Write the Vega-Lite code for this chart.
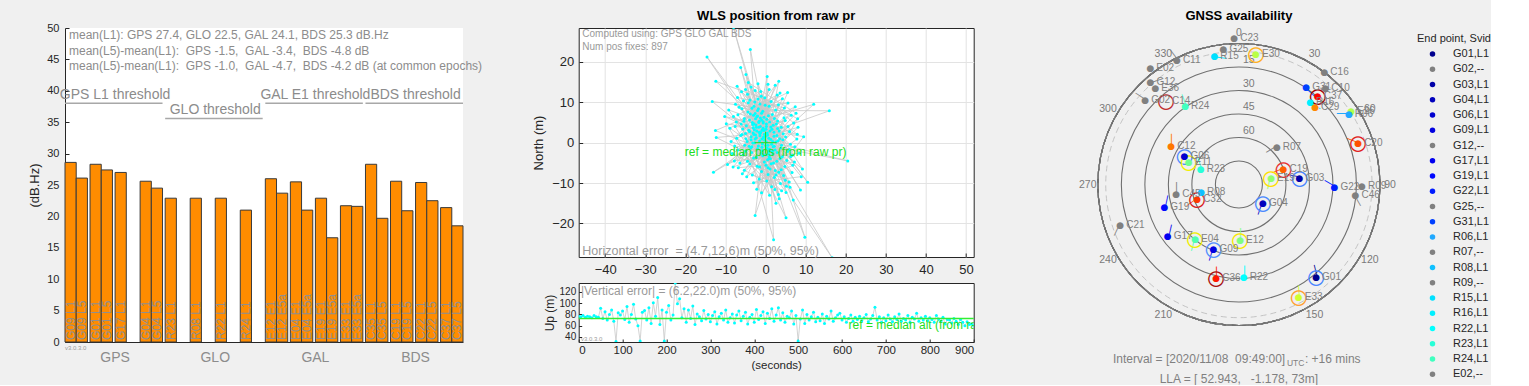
{
"$schema": "https://vega.github.io/schema/vega-lite/v6.json",
"background": "#f0f0f0",
"padding": {"left": 28, "top": 9, "right": 0, "bottom": 0},
"config": {
  "font": "Liberation Sans",
  "view": {"stroke": null},
  "axis": {"labelColor": "#262626", "titleColor": "#262626", "domainColor": "#262626", "tickColor": "#262626", "titleFontWeight": "normal", "grid": false, "ticks": false, "labelOverlap": false, "labelFont": "Liberation Sans", "titleFont": "Liberation Sans"},
  "title": {"fontSize": 13, "fontWeight": "bold", "color": "#000000", "font": "Liberation Sans"}
},
"resolve": {"scale": {"fill": "independent", "stroke": "independent"}, "legend": {"fill": "independent", "stroke": "independent"}},
"datasets": {
  "cn0": [
    {"sat": "G09", "carrier": "L1", "label": "G09 L1", "cn0": 28.6},
    {"sat": "G09", "carrier": "L5", "label": "G09 L5", "cn0": 26.1},
    {"sat": "G01", "carrier": "L1", "label": "G01 L1", "cn0": 28.3},
    {"sat": "G01", "carrier": "L5", "label": "G01 L5", "cn0": 27.4},
    {"sat": "G17", "carrier": "L1", "label": "G17 L1", "cn0": 27.0},
    {"sat": "G04", "carrier": "L1", "label": "G04 L1", "cn0": 25.6},
    {"sat": "G04", "carrier": "L5", "label": "G04 L5", "cn0": 24.5},
    {"sat": "R23", "carrier": "L1", "label": "R23 L1", "cn0": 22.9},
    {"sat": "R08", "carrier": "L1", "label": "R08 L1", "cn0": 22.9},
    {"sat": "R22", "carrier": "L1", "label": "R22 L1", "cn0": 22.9},
    {"sat": "R24", "carrier": "L1", "label": "R24 L1", "cn0": 21.0},
    {"sat": "E12", "carrier": "L1", "label": "E12 E1", "cn0": 26.0},
    {"sat": "E12", "carrier": "L5", "label": "E12 E5a", "cn0": 23.7},
    {"sat": "E04", "carrier": "L1", "label": "E04 E1", "cn0": 25.5},
    {"sat": "E04", "carrier": "L5", "label": "E04 E5a", "cn0": 21.0},
    {"sat": "E19", "carrier": "L1", "label": "E19 E1", "cn0": 22.9},
    {"sat": "E19", "carrier": "L5", "label": "E19 E5a", "cn0": 16.6},
    {"sat": "E33", "carrier": "L1", "label": "E33 E1", "cn0": 21.7},
    {"sat": "E33", "carrier": "L5", "label": "E33 E5a", "cn0": 21.6},
    {"sat": "C35", "carrier": "L1", "label": "C35 L1", "cn0": 28.3},
    {"sat": "C35", "carrier": "L5", "label": "C35 L5", "cn0": 19.7},
    {"sat": "C19", "carrier": "L1", "label": "C19 L1", "cn0": 25.6},
    {"sat": "C19", "carrier": "L5", "label": "C19 L5", "cn0": 20.9},
    {"sat": "C22", "carrier": "L1", "label": "C22 L1", "cn0": 25.4},
    {"sat": "C22", "carrier": "L5", "label": "C22 L5", "cn0": 22.5},
    {"sat": "C37", "carrier": "L1", "label": "C37 L1", "cn0": 21.4},
    {"sat": "C37", "carrier": "L5", "label": "C37 L5", "cn0": 18.5}
  ],
  "groups": [
    {"grp": "GPS", "from": "G09", "to": "G04", "at": "G17", "thr": 38.0, "label": "GPS L1 threshold"},
    {"grp": "GLO", "from": "R23", "to": "R24", "at": "R22", "thr": 35.6, "label": "GLO threshold"},
    {"grp": "GAL", "from": "E12", "to": "E33", "at": "E19", "thr": 38.0, "label": "GAL E1 threshold"},
    {"grp": "BDS", "from": "C35", "to": "C37", "at": "C22", "thr": 38.0, "label": "BDS threshold"}
  ],
  "pos": [
{"i":1,"e":-1.2,"n":2.5},{"i":2,"e":0.8,"n":1.1},{"i":3,"e":-2.9,"n":4.7},{"i":4,"e":1.7,"n":-2.1},{"i":5,"e":-0.4,"n":6.3},
{"i":6,"e":2.6,"n":0.2},{"i":7,"e":-4.1,"n":-0.9},{"i":8,"e":0.5,"n":-4.2},{"i":9,"e":-1.8,"n":8.4},{"i":10,"e":3.4,"n":2.9},
{"i":11,"e":-5.0,"n":2.3},{"i":12,"e":1.1,"n":-6.5},{"i":13,"e":-0.8,"n":-0.3},{"i":14,"e":4.2,"n":-3.5},{"i":15,"e":-2.7,"n":10.1},
{"i":16,"e":0.2,"n":4.0},{"i":17,"e":-6.1,"n":4.6},{"i":18,"e":2.2,"n":-8.6},{"i":19,"e":-1.4,"n":1.7},{"i":20,"e":5.0,"n":1.4},
{"i":21,"e":-3.8,"n":7.1},{"i":22,"e":0.7,"n":-2.7},{"i":23,"e":-2.3,"n":-3.6},{"i":24,"e":3.0,"n":5.4},{"i":25,"e":-7.2,"n":1.1},
{"i":26,"e":1.5,"n":-10.9},{"i":27,"e":-0.1,"n":9.3},{"i":28,"e":4.8,"n":-5.9},{"i":29,"e":-4.5,"n":12.0},{"i":30,"e":2.1,"n":2.6},
{"i":31,"e":-1.0,"n":-7.1},{"i":32,"e":5.9,"n":-1.7},{"i":33,"e":-3.1,"n":3.7},{"i":34,"e":0.9,"n":13.2},{"i":35,"e":-5.6,"n":-3.0},
{"i":36,"e":3.7,"n":-10.1},{"i":37,"e":-2.5,"n":5.9},{"i":38,"e":1.3,"n":0.8},{"i":39,"e":-8.0,"n":6.5},{"i":40,"e":2.8,"n":-4.6},
{"i":41,"e":-14.6,"n":21.2},{"i":42,"e":-0.3,"n":2.1},{"i":43,"e":5.6,"n":4.0},{"i":44,"e":-3.9,"n":-5.3},{"i":45,"e":0.3,"n":-9.5},
{"i":46,"e":-1.9,"n":14.6},{"i":47,"e":4.0,"n":-0.6},{"i":48,"e":-6.6,"n":8.8},{"i":49,"e":1.7,"n":7.0},{"i":50,"e":-3.2,"n":-0.1},
{"i":51,"e":3.2,"n":-12.8},{"i":52,"e":-0.6,"n":3.6},{"i":53,"e":-8.0,"n":28.5},{"i":54,"e":-2.0,"n":6.6},{"i":55,"e":0.4,"n":-1.4},
{"i":56,"e":-4.8,"n":4.2},{"i":57,"e":2.4,"n":-6.9},{"i":58,"e":-1.5,"n":0.4},{"i":59,"e":6.7,"n":-3.1},{"i":60,"e":-2.9,"n":9.0},
{"i":61,"e":0.0,"n":-3.0},{"i":62,"e":-5.3,"n":6.0},{"i":63,"e":3.5,"n":1.0},{"i":64,"e":-1.1,"n":11.5},{"i":65,"e":2.0,"n":-5.0},
{"i":66,"e":-3.6,"n":1.5},{"i":67,"e":1.0,"n":5.1},{"i":68,"e":-6.9,"n":-1.8},{"i":69,"e":4.5,"n":-8.1},{"i":70,"e":-0.7,"n":7.8},
{"i":71,"e":-3.8,"n":23.1},{"i":72,"e":-2.2,"n":2.9},{"i":73,"e":1.9,"n":-1.0},{"i":74,"e":-4.3,"n":9.9},{"i":75,"e":2.9,"n":-2.4},
{"i":76,"e":-0.2,"n":0.6},{"i":77,"e":-6.2,"n":18.6},{"i":78,"e":-2.4,"n":4.4},{"i":79,"e":0.6,"n":-7.9},{"i":80,"e":-1.6,"n":5.3},
{"i":81,"e":3.9,"n":3.8},{"i":82,"e":-5.2,"n":-0.6},{"i":83,"e":1.4,"n":10.2},{"i":84,"e":-12.4,"n":15.2},{"i":85,"e":-3.0,"n":6.8},
{"i":86,"e":0.1,"n":-5.6},{"i":87,"e":-0.9,"n":3.1},{"i":88,"e":5.3,"n":-4.4},{"i":89,"e":-2.6,"n":0.9},{"i":90,"e":2.5,"n":8.1},
{"i":91,"e":-13.3,"n":10.2},{"i":92,"e":-4.0,"n":2.8},{"i":93,"e":0.9,"n":-3.4},{"i":94,"e":-1.3,"n":6.1},{"i":95,"e":4.3,"n":0.7},
{"i":96,"e":-3.5,"n":-2.4},{"i":97,"e":1.6,"n":3.3},{"i":98,"e":-7.6,"n":4.0},{"i":99,"e":2.3,"n":-11.6},{"i":100,"e":-0.5,"n":1.4},
{"i":101,"e":8.1,"n":3.8},{"i":102,"e":-2.1,"n":-5.8},{"i":103,"e":0.7,"n":6.7},{"i":104,"e":-4.6,"n":0.3},{"i":105,"e":3.3,"n":-7.3},
{"i":106,"e":-1.2,"n":12.7},{"i":107,"e":5.5,"n":-2.2},{"i":108,"e":-3.3,"n":5.0},{"i":109,"e":12.0,"n":9.5},{"i":110,"e":-0.8,"n":-1.9},
{"i":111,"e":2.7,"n":4.6},{"i":112,"e":-5.9,"n":2.0},{"i":113,"e":1.2,"n":-4.0},{"i":114,"e":-2.0,"n":8.0},{"i":115,"e":15.9,"n":7.9},
{"i":116,"e":0.4,"n":2.4},{"i":117,"e":-3.7,"n":-1.3},{"i":118,"e":4.6,"n":6.2},{"i":119,"e":-1.6,"n":-9.0},{"i":120,"e":3.3,"n":15.2},
{"i":121,"e":-2.8,"n":3.2},{"i":122,"e":0.2,"n":0.1},{"i":123,"e":5.5,"n":12.4},{"i":124,"e":-4.4,"n":7.6},{"i":125,"e":1.8,"n":-2.8},
{"i":126,"e":-0.6,"n":4.9},{"i":127,"e":7.4,"n":8.9},{"i":128,"e":-3.0,"n":-3.8},{"i":129,"e":2.1,"n":1.6},{"i":130,"e":-1.9,"n":10.8},
{"i":131,"e":9.2,"n":-6.5},{"i":132,"e":-5.4,"n":5.3},{"i":133,"e":0.6,"n":-6.2},{"i":134,"e":-2.3,"n":1.2},{"i":135,"e":20.5,"n":-4.5},
{"i":136,"e":3.8,"n":-1.3},{"i":137,"e":-1.0,"n":5.6},{"i":138,"e":10.5,"n":-9.8},{"i":139,"e":-3.4,"n":8.5},{"i":140,"e":1.5,"n":-0.4},
{"i":141,"e":8.7,"n":-11.7},{"i":142,"e":-0.4,"n":3.0},{"i":143,"e":2.6,"n":-8.0},{"i":144,"e":-4.9,"n":1.0},{"i":145,"e":5.1,"n":-18.6},
{"i":146,"e":-1.7,"n":3.8},{"i":147,"e":0.8,"n":-2.2},{"i":148,"e":-12.5,"n":3.0},{"i":149,"e":-2.6,"n":7.2},{"i":150,"e":3.1,"n":0.5},
{"i":151,"e":-0.3,"n":-4.8},{"i":152,"e":-12.3,"n":1.3},{"i":153,"e":-1.4,"n":2.2},{"i":154,"e":2.6,"n":-15.0},{"i":155,"e":-3.2,"n":4.5},
{"i":156,"e":0.5,"n":1.9},{"i":157,"e":-13.0,"n":-7.3},{"i":158,"e":-1.8,"n":-0.8},{"i":159,"e":4.4,"n":2.2},{"i":160,"e":-2.6,"n":-18.0},
{"i":161,"e":0.3,"n":5.8},{"i":162,"e":-5.7,"n":3.4},{"i":163,"e":2.0,"n":-24.0},{"i":164,"e":1.0,"n":-1.6},{"i":165,"e":-2.2,"n":6.4},
{"i":166,"e":9.8,"n":-23.4},{"i":167,"e":3.6,"n":-3.9},{"i":168,"e":-0.9,"n":0.9},{"i":169,"e":16.6,"n":-28.5},{"i":170,"e":6.9,"n":-14.2},
{"i":171,"e":-1.3,"n":4.0},{"i":172,"e":7.9,"n":2.1},{"i":173,"e":-3.9,"n":10.6},{"i":174,"e":0.0,"n":-0.7},{"i":175,"e":-9.5,"n":-5.4},
{"i":176,"e":-1.6,"n":2.6},{"i":177,"e":-10.2,"n":6.5},{"i":178,"e":1.3,"n":3.9},{"i":179,"e":-7.1,"n":14.0},{"i":180,"e":-0.7,"n":-3.2},
{"i":181,"e":0.4,"n":16.4},{"i":182,"e":-2.5,"n":1.9},{"i":183,"e":-4.9,"n":16.9},{"i":184,"e":2.2,"n":-0.9},{"i":185,"e":-1.0,"n":7.3},
{"i":186,"e":3.9,"n":-6.7},{"i":187,"e":-3.6,"n":0.7},{"i":188,"e":0.9,"n":9.0},{"i":189,"e":-5.0,"n":-2.1},{"i":190,"e":1.9,"n":4.3},
{"i":191,"e":-2.0,"n":-1.5},{"i":192,"e":4.9,"n":-9.3},{"i":193,"e":-0.2,"n":11.1},{"i":194,"e":-4.0,"n":5.6},{"i":195,"e":2.8,"n":1.8},
{"i":196,"e":-1.5,"n":-6.0},{"i":197,"e":6.2,"n":-0.4},{"i":198,"e":-2.9,"n":2.0},{"i":199,"e":0.1,"n":3.3},{"i":200,"e":-1.1,"n":-2.6},
{"i":201,"e":-0.4,"n":1.3},{"i":202,"e":1.1,"n":2.9},{"i":203,"e":-2.3,"n":3.8},{"i":204,"e":0.6,"n":-0.6},{"i":205,"e":-1.7,"n":5.0},
{"i":206,"e":2.4,"n":-1.8},{"i":207,"e":-3.1,"n":2.4},{"i":208,"e":0.2,"n":4.6},{"i":209,"e":-0.9,"n":-1.1},{"i":210,"e":1.8,"n":0.3},
{"i":211,"e":-2.7,"n":0.0},{"i":212,"e":0.9,"n":-3.9},{"i":213,"e":-1.4,"n":9.6},{"i":214,"e":3.0,"n":3.5},{"i":215,"e":-4.2,"n":3.1},
{"i":216,"e":1.4,"n":-5.2},{"i":217,"e":-0.6,"n":5.2},{"i":218,"e":2.2,"n":6.0},{"i":219,"e":-3.4,"n":-1.0},{"i":220,"e":0.0,"n":1.6},
{"i":221,"e":-6.8,"n":-6.2},{"i":222,"e":7.2,"n":-4.8},{"i":223,"e":-7.5,"n":9.5},{"i":224,"e":6.4,"n":6.8},{"i":225,"e":-8.3,"n":-2.7},
{"i":226,"e":5.9,"n":-9.7},{"i":227,"e":-6.0,"n":12.6},{"i":228,"e":7.8,"n":0.9},{"i":229,"e":-4.7,"n":-8.4},{"i":230,"e":4.2,"n":10.9},
{"i":231,"e":-8.9,"n":3.6},{"i":232,"e":6.6,"n":-7.4},{"i":233,"e":-5.5,"n":10.4},{"i":234,"e":8.4,"n":-2.6},{"i":235,"e":-7.8,"n":-4.5},
{"i":236,"e":3.6,"n":12.3},{"i":237,"e":-6.4,"n":-5.0},{"i":238,"e":7.0,"n":4.9},{"i":239,"e":-3.6,"n":13.8},{"i":240,"e":5.1,"n":-12.3},
{"i":241,"e":-9.2,"n":8.1},{"i":242,"e":6.0,"n":2.8},{"i":243,"e":-5.8,"n":-7.7},{"i":244,"e":4.7,"n":8.6},{"i":245,"e":-7.0,"n":11.2},
{"i":246,"e":8.9,"n":-8.4},{"i":247,"e":-3.0,"n":-9.9},{"i":248,"e":6.8,"n":-5.6},{"i":249,"e":-8.6,"n":0.3},{"i":250,"e":2.9,"n":11.8},
{"i":251,"e":-6.9,"n":6.9},{"i":252,"e":5.2,"n":-10.8},{"i":253,"e":-4.3,"n":14.9},{"i":254,"e":7.6,"n":7.3},{"i":255,"e":-5.3,"n":-6.8},
{"i":256,"e":4.0,"n":-11.9},{"i":257,"e":-7.7,"n":-0.8},{"i":258,"e":6.3,"n":-3.4},{"i":259,"e":-2.6,"n":12.9},{"i":260,"e":3.4,"n":-13.9},
{"i":261,"e":-5.9,"n":8.4},{"i":262,"e":5.6,"n":9.8},{"i":263,"e":-8.1,"n":-6.0},{"i":264,"e":7.3,"n":-1.0},{"i":265,"e":-4.5,"n":-4.6},
{"i":266,"e":2.4,"n":14.2},{"i":267,"e":-6.2,"n":1.8},{"i":268,"e":4.9,"n":5.5},{"i":269,"e":-3.3,"n":-8.0},{"i":270,"e":6.1,"n":-11.0},
{"i":271,"e":-7.3,"n":5.1},{"i":272,"e":3.2,"n":9.4},{"i":273,"e":-2.2,"n":-11.5},{"i":274,"e":8.0,"n":5.9},{"i":275,"e":-5.0,"n":13.2},
{"i":276,"e":1.0,"n":-13.0},{"i":277,"e":-9.8,"n":4.7},{"i":278,"e":9.5,"n":1.5},{"i":279,"e":-1.0,"n":-12.4},{"i":280,"e":0.6,"n":14.5}
  ],
  "up": [
{"t":0,"u":77},{"t":5,"u":76},{"t":10,"u":78},{"t":15,"u":75},{"t":20,"u":77},{"t":25,"u":76},{"t":30,"u":74},{"t":35,"u":78},{"t":40,"u":76},{"t":45,"u":75},
{"t":50,"u":91},{"t":55,"u":73},{"t":60,"u":85},{"t":65,"u":70},{"t":70,"u":80},{"t":75,"u":88},{"t":80,"u":68},{"t":85,"u":32},{"t":90,"u":83},{"t":95,"u":79},
{"t":100,"u":86},{"t":105,"u":71},{"t":110,"u":94},{"t":115,"u":66},{"t":120,"u":80},{"t":125,"u":98},{"t":130,"u":72},{"t":135,"u":60},{"t":140,"u":33},{"t":145,"u":84},
{"t":150,"u":87},{"t":155,"u":70},{"t":160,"u":92},{"t":165,"u":64},{"t":170,"u":101},{"t":175,"u":77},{"t":180,"u":110},{"t":185,"u":62},{"t":190,"u":88},{"t":195,"u":33},
{"t":200,"u":84},{"t":205,"u":96},{"t":210,"u":70},{"t":215,"u":79},{"t":220,"u":136},{"t":225,"u":99},{"t":230,"u":108},{"t":235,"u":74},{"t":240,"u":90},{"t":245,"u":66},
{"t":250,"u":88},{"t":255,"u":73},{"t":260,"u":95},{"t":265,"u":62},{"t":270,"u":81},{"t":275,"u":76},{"t":280,"u":69},{"t":285,"u":87},{"t":290,"u":72},{"t":295,"u":80},
{"t":300,"u":67},{"t":305,"u":78},{"t":310,"u":85},{"t":315,"u":63},{"t":320,"u":76},{"t":325,"u":82},{"t":330,"u":70},{"t":335,"u":88},{"t":340,"u":66},{"t":345,"u":74},
{"t":350,"u":81},{"t":355,"u":65},{"t":360,"u":79},{"t":365,"u":86},{"t":370,"u":69},{"t":375,"u":77},{"t":380,"u":84},{"t":385,"u":63},{"t":390,"u":75},{"t":395,"u":80},
{"t":400,"u":66},{"t":405,"u":89},{"t":410,"u":71},{"t":415,"u":78},{"t":420,"u":85},{"t":425,"u":64},{"t":430,"u":82},{"t":435,"u":73},{"t":440,"u":90},{"t":445,"u":68},
{"t":450,"u":79},{"t":455,"u":92},{"t":460,"u":70},{"t":465,"u":83},{"t":470,"u":66},{"t":475,"u":77},{"t":480,"u":74},{"t":485,"u":86},{"t":490,"u":63},{"t":495,"u":78},
{"t":500,"u":33},{"t":505,"u":72},{"t":510,"u":88},{"t":515,"u":64},{"t":520,"u":80},{"t":525,"u":70},{"t":530,"u":76},{"t":535,"u":84},{"t":540,"u":67},{"t":545,"u":75},
{"t":550,"u":69},{"t":555,"u":81},{"t":560,"u":64},{"t":565,"u":77},{"t":570,"u":72},{"t":575,"u":86},{"t":580,"u":68},{"t":585,"u":74},{"t":590,"u":79},{"t":595,"u":82},
{"t":600,"u":70},{"t":605,"u":76},{"t":610,"u":66},{"t":615,"u":73},{"t":620,"u":79},{"t":625,"u":68},{"t":630,"u":75},{"t":635,"u":71},{"t":640,"u":77},{"t":645,"u":69},
{"t":650,"u":74},{"t":655,"u":80},{"t":660,"u":67},{"t":665,"u":72},{"t":670,"u":78},{"t":675,"u":93},{"t":680,"u":70},{"t":685,"u":76},{"t":690,"u":66},{"t":695,"u":74},
{"t":700,"u":69},{"t":705,"u":79},{"t":710,"u":72},{"t":715,"u":67},{"t":720,"u":76},{"t":725,"u":71},{"t":730,"u":81},{"t":735,"u":68},{"t":740,"u":73},{"t":745,"u":70},
{"t":750,"u":78},{"t":755,"u":66},{"t":760,"u":75},{"t":765,"u":72},{"t":770,"u":82},{"t":775,"u":68},{"t":780,"u":74},{"t":785,"u":70},{"t":790,"u":77},{"t":795,"u":69},
{"t":800,"u":74},{"t":805,"u":71},{"t":810,"u":66},{"t":815,"u":78},{"t":820,"u":72},{"t":825,"u":68},{"t":830,"u":75},{"t":835,"u":63},{"t":840,"u":71},{"t":845,"u":70},
{"t":850,"u":65},{"t":855,"u":73},{"t":860,"u":68},{"t":865,"u":62},{"t":870,"u":71},{"t":875,"u":66},{"t":880,"u":60},{"t":885,"u":67},{"t":890,"u":62},{"t":895,"u":63},{"t":900,"u":61}
  ],
  "sats": [
    {"sv": "C23", "sig": "C23,--", "az": 358.2, "el": -3.6},
    {"sv": "G25", "sig": "G25,--", "az": 353.5, "el": 3.2},
    {"sv": "R15", "sig": "R15,L1", "az": 349.2, "el": 6.4, "tail": 8},
    {"sv": "E30", "sig": "E30,E1", "ring": "E30,E5a", "az": 7.5, "el": 6.3},
    {"sv": "C11", "sig": "C11,--", "az": 333.5, "el": 1.3, "tail": 233},
    {"sv": "E02", "sig": "E02,--", "az": 322.8, "el": -3.5},
    {"sv": "G12", "sig": "G12,--", "az": 319.3, "el": 3.5, "tail": 342},
    {"sv": "E36", "sig": "E36,--", "az": 319.2, "el": 8.4},
    {"sv": "G02", "sig": "G02,--", "az": 311.9, "el": 9.6, "tail": 213},
    {"sv": "C14", "ring": "C14,B2", "az": 318.9, "el": 19.3},
    {"sv": "R24", "sig": "R24,L1", "az": 325.6, "el": 29.2, "tail": 250},
    {"sv": "C12", "sig": "C12,B1", "az": 299.7, "el": 40.2, "tail": 270},
    {"sv": "G06", "sig": "G06,L1", "ring": "G06,L5", "az": 297.8, "el": 50.7},
    {"sv": "E11", "sig": "E11,E1", "ring": "E11,E5a", "az": 293.8, "el": 55.0},
    {"sv": "R23", "sig": "R23,L1", "az": 291.6, "el": 63.8, "tail": 250},
    {"sv": "C45", "sig": "C45,--", "az": 261.3, "el": 49.5, "tail": 270},
    {"sv": "R08", "sig": "R08,L1", "az": 259.1, "el": 65.4},
    {"sv": "C32", "sig": "C32,B1", "ring": "C32,B2", "az": 250.4, "el": 61.7, "tail": 144},
    {"sv": "G19", "sig": "G19,L1", "az": 253.3, "el": 40.3, "tail": 282},
    {"sv": "C21", "sig": "C21,--", "az": 251.1, "el": 9.9, "tail": 115},
    {"sv": "G17", "sig": "G17,L1", "az": 234.0, "el": 33.9, "tail": 283},
    {"sv": "E04", "sig": "E04,E1", "ring": "E04,E5a", "az": 218.6, "el": 45.2, "tail": 104},
    {"sv": "G09", "sig": "G09,L1", "ring": "G09,L5", "az": 201.4, "el": 45.5, "tail": 107},
    {"sv": "C36", "sig": "C36,B1", "ring": "C36,B2", "az": 193.6, "el": 28.3, "tail": 270},
    {"sv": "E12", "sig": "E12,E1", "ring": "E12,E5a", "az": 178.8, "el": 54.5, "tail": 270},
    {"sv": "R22", "sig": "R22,L1", "az": 177.0, "el": 30.6, "tail": 270},
    {"sv": "G22", "sig": "G22,L1", "az": 91.7, "el": 29.0, "tail": 210},
    {"sv": "R09", "sig": "R09,--", "az": 90.6, "el": 11.4},
    {"sv": "C46", "sig": "C46,--", "az": 95.2, "el": 15.3, "tail": 60},
    {"sv": "G04", "sig": "G04,L1", "ring": "G04,L5", "az": 128.3, "el": 70.5, "tail": 109},
    {"sv": "G01", "sig": "G01,L1", "ring": "G01,L5", "az": 140.1, "el": 13.2, "tail": 256},
    {"sv": "E33", "sig": "E33,E1", "ring": "E33,E5a", "az": 152.1, "el": 8.4, "tail": 264},
    {"sv": "C16", "sig": "C16,--", "az": 37.3, "el": 0.0},
    {"sv": "G31", "sig": "G31,L1", "az": 34.7, "el": 14.6, "tail": 43},
    {"sv": "C10", "sig": "C10,--", "az": 41.8, "el": 7.2},
    {"sv": "C37", "sig": "C37,B1", "ring": "C37,B2", "az": 41.7, "el": 14.4},
    {"sv": "R16", "sig": "R16,L1", "az": 40.9, "el": 20.6, "tail": 29},
    {"sv": "C29", "sig": "C29,B1", "az": 44.4, "el": 20.5},
    {"sv": "E26", "sig": "E26,E1", "az": 56.8, "el": 4.4},
    {"sv": "R06", "sig": "R06,L1", "az": 57.5, "el": 6.8, "tail": 180},
    {"sv": "C20", "sig": "C20,B1", "ring": "C20,B2", "az": 71.0, "el": 9.5, "tail": 201},
    {"sv": "R07", "sig": "R07,--", "az": 45.2, "el": 55.9, "tail": 148},
    {"sv": "C19", "sig": "C19,B1", "ring": "C19,B2", "az": 70.9, "el": 59.9, "tail": 157},
    {"sv": "E19", "sig": "E19,E1", "ring": "E19,E5a", "az": 78.2, "el": 69.0, "tail": 103},
    {"sv": "G03", "sig": "G03,L1", "ring": "G03,L5", "az": 83.7, "el": 51.1, "tail": 191}
  ],
  "spokes": [
    {"az": 0}, {"az": 30}, {"az": 60}, {"az": 90}, {"az": 120}, {"az": 150},
    {"az": 180}, {"az": 210}, {"az": 240}, {"az": 270}, {"az": 300}, {"az": 330}
  ],
  "sectors": [
    {"k": 1, "span": 30}, {"k": 2, "span": 30}, {"k": 3, "span": 30}, {"k": 4, "span": 30},
    {"k": 5, "span": 30}, {"k": 6, "span": 30}, {"k": 7, "span": 30}, {"k": 8, "span": 30},
    {"k": 9, "span": 30}, {"k": 10, "span": 30}, {"k": 11, "span": 30}, {"k": 12, "span": 30}
  ]
},
"hconcat": [
  {
    "hconcat": [
      {
        "width": 398, "height": 314,
        "view": {"fill": "#ffffff", "stroke": null},
        "layer": [
          {
            "data": {"name": "cn0"},
            "mark": {"type": "bar", "fill": "#ff8c00", "stroke": "#3a3a3a", "strokeWidth": 1},
            "encoding": {
              "x": {"field": "sat", "type": "nominal", "sort": null,
                    "scale": {"domain": ["G09","G01","G17","G04","R23","R08","R22","R24","E12","E04","E19","E33","C35","C19","C22","C37"], "paddingInner": 0.105, "paddingOuter": 0},
                    "axis": {"title": null, "labels": false, "ticks": false, "domainColor": "#262626"}},
              "xOffset": {"field": "carrier", "type": "nominal", "scale": {"domain": ["L1","L5"], "paddingInner": 0, "paddingOuter": 0}},
              "y": {"field": "cn0", "type": "quantitative", "scale": {"domain": [0, 50], "nice": false, "zero": false},
                    "axis": {"title": "(dB.Hz)", "values": [0,5,10,15,20,25,30,35,40,45,50], "tickCount": 30, "labelOverlap": false, "ticks": true, "tickSize": -4, "labelFontSize": 11, "labelPadding": 10, "titleFontSize": 13, "titlePadding": 5}}
            }
          },
          {
            "data": {"name": "cn0"},
            "mark": {"type": "text", "angle": 270, "align": "left", "baseline": "middle", "dx": 2, "fontSize": 12, "color": "#8f8f8f"},
            "encoding": {
              "x": {"field": "sat", "type": "nominal"},
              "xOffset": {"field": "carrier", "type": "nominal"},
              "y": {"datum": 0, "type": "quantitative"},
              "text": {"field": "label"}
            }
          },
          {
            "data": {"name": "groups"},
            "mark": {"type": "rule", "color": "#a8a8a8", "strokeWidth": 1.5},
            "encoding": {
              "x": {"field": "from", "type": "nominal", "bandPosition": 0},
              "x2": {"field": "to", "bandPosition": 1},
              "y": {"field": "thr", "type": "quantitative"}
            }
          },
          {
            "data": {"name": "groups"},
            "mark": {"type": "text", "align": "center", "baseline": "bottom", "dy": -1, "fontSize": 14, "color": "#8c8c8c"},
            "encoding": {
              "x": {"field": "at", "type": "nominal", "bandPosition": 0},
              "y": {"field": "thr", "type": "quantitative"},
              "text": {"field": "label"}
            }
          },
          {
            "data": {"name": "groups"},
            "mark": {"type": "text", "align": "center", "baseline": "middle", "fontSize": 14, "color": "#8c8c8c"},
            "encoding": {
              "x": {"field": "at", "type": "nominal", "bandPosition": 0},
              "y": {"datum": -2.5, "type": "quantitative"},
              "text": {"field": "grp"}
            }
          },
          {
            "data": {"values": [{"t": ["mean(L1): GPS 27.4, GLO 22.5, GAL 24.1, BDS 25.3 dB.Hz", "mean(L5)-mean(L1): \u00a0GPS -1.5, \u00a0GAL -3.4, \u00a0BDS -4.8 dB", "mean(L5)-mean(L1): \u00a0GPS -1.0, \u00a0GAL -4.7, \u00a0BDS -4.2 dB (at common epochs)"]}]},
            "mark": {"type": "text", "align": "left", "baseline": "top", "dx": 4, "fontSize": 12, "lineHeight": 15.7, "color": "#8c8c8c"},
            "encoding": {
              "x": {"datum": "G09", "bandPosition": 0},
              "y": {"datum": 49.7, "type": "quantitative"},
              "text": {"field": "t"}
            }
          },
          {
            "data": {"values": [{"t": "v3.0.3.0"}]},
            "mark": {"type": "text", "align": "left", "baseline": "middle", "fontSize": 6, "color": "#9a9a9a"},
            "encoding": {
              "x": {"datum": "G09", "bandPosition": 0},
              "y": {"datum": -0.9, "type": "quantitative"},
              "text": {"field": "t"}
            }
          }
        ]
      },
      {
        "vconcat": [
          {
            "width": 395, "height": 229,
            "view": {"fill": "#ffffff", "stroke": "#262626", "strokeWidth": 1},
            "title": {"text": "WLS position from raw pr", "frame": "group", "offset": 5},
            "layer": [
              {
                "data": {"name": "pos"},
                "mark": {"type": "line", "color": "#c8c8c8", "strokeWidth": 0.8, "clip": true},
                "encoding": {
                  "x": {"field": "e", "type": "quantitative", "scale": {"domain": [-46.6, 51.9], "nice": false, "zero": false},
                        "axis": {"title": null, "values": [-40,-30,-20,-10,0,10,20,30,40,50], "tickCount": 30, "labelOverlap": false, "grid": true, "gridColor": "#e3e3e3", "ticks": true, "tickSize": -4, "labelFontSize": 13, "labelPadding": 10, "domain": false}},
                  "y": {"field": "n", "type": "quantitative", "scale": {"domain": [-28.3, 28.4], "nice": false, "zero": false},
                        "axis": {"title": "North (m)", "values": [-20,-10,0,10,20], "tickCount": 30, "labelOverlap": false, "grid": true, "gridColor": "#e3e3e3", "ticks": true, "tickSize": -4, "labelFontSize": 13, "labelPadding": 9, "titleFontSize": 13, "titlePadding": 6, "domain": false}},
                  "order": {"field": "i", "type": "quantitative"}
                }
              },
              {
                "data": {"name": "pos"},
                "mark": {"type": "point", "filled": true, "color": "#00ffff", "size": 9, "opacity": 1, "clip": true},
                "encoding": {
                  "x": {"field": "e", "type": "quantitative"},
                  "y": {"field": "n", "type": "quantitative"}
                }
              },
              {
                "data": {"values": [{"ref": "median"}]},
                "mark": {"type": "point", "shape": "M-1,0L1,0M0,-1L0,1", "size": 484, "filled": false, "stroke": "#22dd22", "strokeWidth": 1, "opacity": 1},
                "encoding": {
                  "x": {"datum": 0, "type": "quantitative"},
                  "y": {"datum": 0, "type": "quantitative"}
                }
              },
              {
                "data": {"values": [{"t": "ref = median pos (from raw pr)"}]},
                "mark": {"type": "text", "align": "center", "baseline": "middle", "fontSize": 12, "color": "#22dd22"},
                "encoding": {
                  "x": {"datum": 0, "type": "quantitative"},
                  "y": {"datum": -2.3, "type": "quantitative"},
                  "text": {"field": "t"}
                }
              },
              {
                "data": {"values": [{"t": ["Computed using: GPS GLO GAL BDS", "Num pos fixes: 897"]}]},
                "mark": {"type": "text", "align": "left", "baseline": "top", "fontSize": 10, "lineHeight": 12.7, "color": "#9a9a9a"},
                "encoding": {
                  "x": {"datum": -45.7, "type": "quantitative"},
                  "y": {"datum": 28.1, "type": "quantitative"},
                  "text": {"field": "t"}
                }
              },
              {
                "data": {"values": [{"t": "Horizontal error \u00a0= (4.7,12.6)m (50%, 95%)"}]},
                "mark": {"type": "text", "align": "left", "baseline": "middle", "fontSize": 12.5, "color": "#9a9a9a"},
                "encoding": {
                  "x": {"datum": -45.7, "type": "quantitative"},
                  "y": {"datum": -26.8, "type": "quantitative"},
                  "text": {"field": "t"}
                }
              }
            ]
          },
          {
            "width": 395, "height": 59,
            "view": {"fill": "#ffffff", "stroke": "#262626", "strokeWidth": 1},
            "layer": [
              {
                "data": {"name": "up"},
                "mark": {"type": "line", "color": "#c8c8c8", "strokeWidth": 0.8, "clip": true},
                "encoding": {
                  "x": {"field": "t", "type": "quantitative", "scale": {"domain": [0, 900], "nice": false, "zero": false},
                        "axis": {"title": "(seconds)", "values": [0,100,200,300,400,500,600,700,800,900], "tickCount": 30, "labelOverlap": false, "ticks": true, "tickSize": -3, "labelFontSize": 11.5, "labelPadding": 5.5, "titleFontSize": 11.5, "titlePadding": 3, "domain": false}},
                  "y": {"field": "u", "type": "quantitative", "scale": {"domain": [31, 136], "nice": false, "zero": false},
                        "axis": {"title": "Up (m)", "values": [40,60,80,100,120], "tickCount": 30, "labelOverlap": false, "ticks": true, "tickSize": -3, "labelFontSize": 10, "labelPadding": 6, "titleFontSize": 12, "titlePadding": 3, "domain": false}}
                }
              },
              {
                "data": {"name": "up"},
                "mark": {"type": "point", "filled": true, "color": "#00ffff", "size": 9, "opacity": 1, "clip": true},
                "encoding": {
                  "x": {"field": "t", "type": "quantitative"},
                  "y": {"field": "u", "type": "quantitative"}
                }
              },
              {
                "data": {"values": [{"ref": "median alt"}]},
                "mark": {"type": "rule", "color": "#33ee33", "strokeWidth": 1.5},
                "encoding": {
                  "y": {"datum": 73, "type": "quantitative"}
                }
              },
              {
                "data": {"values": [{"t": "|Vertical error| = (6.2,22.0)m (50%, 95%)"}]},
                "mark": {"type": "text", "align": "left", "baseline": "middle", "fontSize": 12, "color": "#9a9a9a"},
                "encoding": {
                  "x": {"datum": 5, "type": "quantitative"},
                  "y": {"datum": 121.8, "type": "quantitative"},
                  "text": {"field": "t"}
                }
              },
              {
                "data": {"values": [{"t": "ref = median alt (from raw pr)"}]},
                "mark": {"type": "text", "align": "left", "baseline": "middle", "fontSize": 12, "color": "#22dd22", "clip": true},
                "encoding": {
                  "x": {"datum": 615, "type": "quantitative"},
                  "y": {"datum": 60.8, "type": "quantitative"},
                  "text": {"field": "t"}
                }
              },
              {
                "data": {"values": [{"t": "v3.0.3.0"}]},
                "mark": {"type": "text", "align": "left", "baseline": "middle", "fontSize": 6, "color": "#9a9a9a"},
                "encoding": {
                  "x": {"datum": 5, "type": "quantitative"},
                  "y": {"datum": 36, "type": "quantitative"},
                  "text": {"field": "t"}
                }
              }
            ]
          }
        ],
        "spacing": 26,
        "bounds": "flush"
      }
    ],
    "spacing": 115.7,
    "bounds": "flush"
  },
  {
    "width": 299, "height": 313,
    "title": {"text": "GNSS availability", "frame": "group", "offset": 5},
    "layer": [
      {
        "data": {"values": [{"el": 0}, {"el": 15}, {"el": 30}, {"el": 45}, {"el": 60}, {"el": 75}]},
        "mark": {"type": "arc", "theta": 0, "theta2": 6.2832, "filled": false, "stroke": "#707070", "strokeWidth": 1.1},
        "encoding": {
          "radius": {"field": "el", "type": "quantitative", "stack": null, "scale": {"type": "linear", "domain": [0, 90], "range": [141, 0], "zero": false, "nice": false}}
        }
      },
      {
        "data": {"values": [{"el": 5}]},
        "mark": {"type": "arc", "theta": 0, "theta2": 6.2832, "filled": false, "stroke": "#c4c4c4", "strokeWidth": 1, "strokeDash": [6, 4]},
        "encoding": {
          "radius": {"field": "el", "type": "quantitative", "stack": null}
        }
      },
      {
        "data": {"name": "sectors"},
        "mark": {"type": "arc", "filled": false, "stroke": "#707070", "strokeWidth": 1.1},
        "encoding": {
          "theta": {"field": "span", "type": "quantitative", "stack": true, "scale": {"type": "linear", "domain": [0, 360], "range": [0, 6.283185307179586], "zero": false, "nice": false}},
          "order": {"field": "k", "type": "quantitative"},
          "radius": {"datum": 0, "type": "quantitative"}
        }
      },
      {
        "data": {"name": "spokes"},
        "transform": [{"filter": "datum.az != 180"}],
        "mark": {"type": "text", "align": "center", "baseline": "middle", "fontSize": 10.5, "color": "#7a7a7a"},
        "encoding": {
          "theta": {"field": "az", "type": "quantitative", "stack": null},
          "radius": {"datum": -6.5, "type": "quantitative"},
          "text": {"field": "az", "type": "nominal"}
        }
      },
      {
        "data": {"values": [{"el": 15}, {"el": 30}, {"el": 45}, {"el": 60}]},
        "mark": {"type": "text", "align": "left", "baseline": "bottom", "dx": 4, "dy": -2, "fontSize": 10.5, "color": "#7a7a7a"},
        "encoding": {
          "theta": {"datum": 0, "type": "quantitative"},
          "radius": {"field": "el", "type": "quantitative", "stack": null},
          "text": {"field": "el", "type": "nominal"}
        }
      },
      {
        "data": {"name": "sats"},
        "transform": [{"filter": "isValid(datum.tail) && isValid(datum.sig)"}],
        "mark": {"type": "text", "text": "—", "font": "Liberation Sans", "fontSize": 12, "align": "left", "baseline": "middle"},
        "encoding": {
          "theta": {"field": "az", "type": "quantitative", "stack": null},
          "radius": {"field": "el", "type": "quantitative", "stack": null},
          "angle": {"field": "tail", "type": "quantitative", "scale": {"domain": [0, 360], "range": [0, 360], "zero": false, "nice": false}},
          "fill": {"field": "sig", "type": "nominal"}
        }
      },
      {
        "data": {"name": "sats"},
        "transform": [{"filter": "isValid(datum.ring)"}],
        "mark": {"type": "text", "text": "●", "font": "DejaVu Sans", "fontSize": 19, "fillOpacity": 0, "strokeWidth": 1.3, "align": "center", "baseline": "middle"},
        "encoding": {
          "theta": {"field": "az", "type": "quantitative", "stack": null},
          "radius": {"field": "el", "type": "quantitative", "stack": null},
          "stroke": {"field": "ring", "type": "nominal", "legend": null,
            "scale": {"domain": ["G01,L5","G03,L5","G04,L5","G06,L5","G09,L5","E04,E5a","E11,E5a","E12,E5a","E19,E5a","E30,E5a","E33,E5a","C14,B2","C19,B2","C20,B2","C32,B2","C36,B2","C37,B2"],
                      "range": ["#4a86ff","#4a86ff","#4d8aff","#508cff","#5490ff","#eeee00","#f2ee00","#f8e800","#ffe000","#ffb020","#ffa030","#c03030","#e83030","#e02020","#d82020","#a81010","#a00000"]}}
        }
      },
      {
        "data": {"name": "sats"},
        "transform": [{"filter": "isValid(datum.sig)"}],
        "mark": {"type": "text", "text": "●", "font": "DejaVu Sans", "fontSize": 9, "align": "center", "baseline": "middle"},
        "encoding": {
          "theta": {"field": "az", "type": "quantitative", "stack": null},
          "radius": {"field": "el", "type": "quantitative", "stack": null},
          "fill": {"field": "sig", "type": "nominal",
            "scale": {"domain": ["G01,L1","G02,--","G03,L1","G04,L1","G06,L1","G09,L1","G12,--","G17,L1","G19,L1","G22,L1","G25,--","G31,L1","R06,L1","R07,--","R08,L1","R09,--","R15,L1","R16,L1","R22,L1","R23,L1","R24,L1","E02,--","E04,E1","E11,E1","E12,E1","E19,E1","E26,E1","E30,E1","E33,E1","E36,--","C10,--","C11,--","C12,B1","C16,--","C19,B1","C20,B1","C21,--","C23,--","C29,B1","C32,B1","C36,B1","C37,B1","C45,--","C46,--"],
                      "range": ["#00008f","#808080","#0000a8","#0000bd","#0000cf","#0000e0","#808080","#0000f0","#0008ff","#001cff","#808080","#0040ff","#20a8ff","#808080","#10c0ff","#808080","#00e0ff","#00f0ff","#00ffff","#28ffd7","#40ffbf","#808080","#50ffaf","#70ff8f","#80ff7f","#90ff6f","#b0ff4f","#b8ff47","#d0ff2f","#808080","#808080","#808080","#ff7800","#808080","#ff6000","#ff5000","#808080","#808080","#ff8800","#ff3800","#ff1800","#ff0000","#808080","#808080"]},
            "legend": {"title": "End point, Svid", "values": ["G01,L1","G02,--","G03,L1","G04,L1","G06,L1","G09,L1","G12,--","G17,L1","G19,L1","G22,L1","G25,--","G31,L1","R06,L1","R07,--","R08,L1","R09,--","R15,L1","R16,L1","R22,L1","R23,L1","R24,L1","E02,--"],
                       "orient": "none", "legendX": 327.6, "legendY": 4.5, "padding": 0, "symbolType": "circle", "symbolSize": 30, "symbolStrokeWidth": 0, "symbolOffset": 10, "labelOffset": 15, "labelFontSize": 11, "labelColor": "#262626", "labelFont": "Liberation Sans", "titleFont": "Liberation Sans", "titleFontSize": 11, "titleFontWeight": "normal", "titleColor": "#262626", "titlePadding": 5, "rowPadding": 3.25}}
        }
      },
      {
        "data": {"name": "sats"},
        "mark": {"type": "text", "align": "left", "baseline": "middle", "dx": 6, "fontSize": 10, "color": "#808080"},
        "encoding": {
          "theta": {"field": "az", "type": "quantitative", "stack": null},
          "radius": {"field": "el", "type": "quantitative", "stack": null},
          "text": {"field": "sv"}
        }
      },
      {
        "data": {"values": [{"t": "Interval = [2020/11/08 \u00a009:49:00]"}]},
        "mark": {"type": "text", "align": "left", "baseline": "middle", "dx": -126, "fontSize": 12, "color": "#808080"},
        "encoding": {
          "theta": {"datum": 180, "type": "quantitative"},
          "radius": {"datum": -21.4, "type": "quantitative"},
          "text": {"field": "t"}
        }
      },
      {
        "data": {"values": [{"t": "UTC"}]},
        "mark": {"type": "text", "align": "left", "baseline": "middle", "dx": 48, "dy": 4, "fontSize": 8.5, "color": "#808080"},
        "encoding": {
          "theta": {"datum": 180, "type": "quantitative"},
          "radius": {"datum": -21.4, "type": "quantitative"},
          "text": {"field": "t"}
        }
      },
      {
        "data": {"values": [{"t": ": +16 mins"}]},
        "mark": {"type": "text", "align": "left", "baseline": "middle", "dx": 66, "fontSize": 12, "color": "#808080"},
        "encoding": {
          "theta": {"datum": 180, "type": "quantitative"},
          "radius": {"datum": -21.4, "type": "quantitative"},
          "text": {"field": "t"}
        }
      },
      {
        "data": {"values": [{"t": "LLA = [ 52.943, \u00a0 -1.178, 73m]"}]},
        "mark": {"type": "text", "align": "center", "baseline": "middle", "fontSize": 12, "color": "#808080"},
        "encoding": {
          "theta": {"datum": 180, "type": "quantitative"},
          "radius": {"datum": -33.9, "type": "quantitative"},
          "text": {"field": "t"}
        }
      }
    ]
  }
],
"spacing": 1024.4,
"bounds": "flush"
}
